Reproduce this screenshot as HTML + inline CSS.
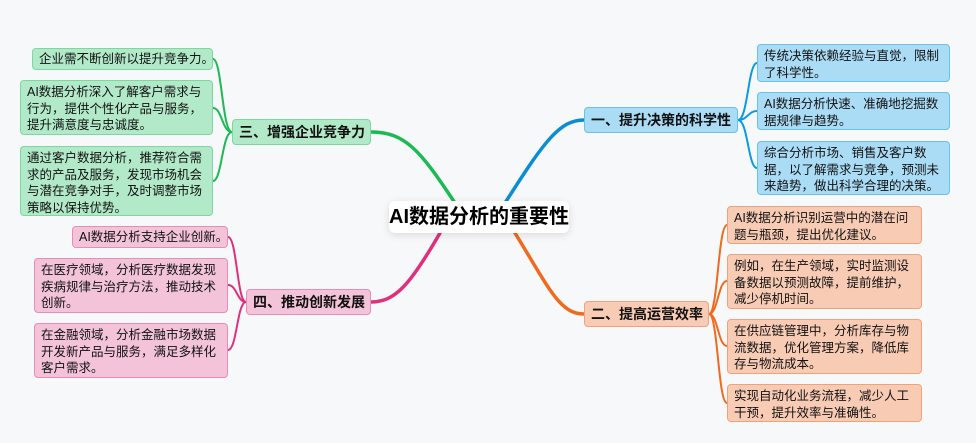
<!DOCTYPE html>
<html><head><meta charset="utf-8"><style>
body{margin:0;width:976px;height:443px;background:#f7f8fa;position:relative;overflow:hidden;font-family:"Liberation Sans","Noto Sans CJK SC",sans-serif;}
.n{position:absolute;box-sizing:border-box;border:1px solid;border-radius:4px;font-size:12.5px;line-height:16.5px;padding:3px 6px;color:#111;white-space:nowrap;}
.b{font-weight:bold;font-size:14px;line-height:24px;padding:0 6px;}
.g{background:#b2e9c8;border-color:#7dd8a0}
.bl{background:#abdcf5;border-color:#6cc0ec}
.o{background:#f8cbb5;border-color:#f1a27a}
.p{background:#f3c3da;border-color:#e98db6}
svg{position:absolute;left:0;top:0}
</style></head><body>
<svg width="976" height="443" fill="none" stroke-linecap="round">
<g stroke="#1db954" stroke-width="3.5"><path d="M455 203 C420 150,405 132,371 132"/></g>
<g stroke="#1db954" stroke-width="2"><path d="M232 132 C222 132,222 59,213 59"/><path d="M232 132 C222 132,222 108,213 108"/><path d="M232 132 C222 132,222 181,213 181"/></g>
<g stroke="#0a8dd3" stroke-width="3.5"><path d="M505 203 C545 140,560 120,584 120"/></g>
<g stroke="#0a9be3" stroke-width="2"><path d="M738 120 C748 120,748 63,757 63"/><path d="M738 120 C748 120,748 111,757 111"/><path d="M738 120 C748 120,748 168,757 168"/></g>
<g stroke="#f06a1e" stroke-width="3.5"><path d="M515 233 C550 290,560 314,584 314"/></g>
<g stroke="#f06a1e" stroke-width="2"><path d="M709 314 C718 314,718 225,727 225"/><path d="M709 314 C718 314,718 281,727 281"/><path d="M709 314 C718 314,718 346,727 346"/><path d="M709 314 C718 314,718 403,727 403"/></g>
<g stroke="#e0307d" stroke-width="3.5"><path d="M440 233 C410 285,395 302,371 302"/></g>
<g stroke="#e0307d" stroke-width="2"><path d="M246 302 C237 302,237 237,228 237"/><path d="M246 302 C237 302,237 285,228 285"/><path d="M246 302 C237 302,237 350,228 350"/></g>
</svg>
<div style="position:absolute;left:389px;top:201px;width:180px;height:32px;background:#fff;border-radius:6px;box-shadow:0 2px 8px rgba(0,0,0,.12);font-weight:bold;font-size:20px;line-height:32px;text-align:center;color:#000">AI数据分析的重要性</div>

<div class="n b g" style="left:232px;top:119px;width:139px;height:26px">三、增强企业竞争力</div>
<div class="n g" style="left:32px;top:48px;width:181px;height:22px;padding-top:2px">企业需不断创新以提升竞争力。</div>
<div class="n g" style="left:20px;top:80px;width:193px;height:55px">AI数据分析深入了解客户需求与<br>行为，提供个性化产品与服务，<br>提升满意度与忠诚度。</div>
<div class="n g" style="left:20px;top:146px;width:193px;height:70px">通过客户数据分析，推荐符合需<br>求的产品及服务，发现市场机会<br>与潜在竞争对手，及时调整市场<br>策略以保持优势。</div>

<div class="n b bl" style="left:584px;top:107px;width:154px;height:26px">一、提升决策的科学性</div>
<div class="n bl" style="left:757px;top:44px;width:193px;height:38px">传统决策依赖经验与直觉，限制<br>了科学性。</div>
<div class="n bl" style="left:757px;top:92px;width:193px;height:38px">AI数据分析快速、准确地挖掘数<br>据规律与趋势。</div>
<div class="n bl" style="left:757px;top:141px;width:193px;height:54px">综合分析市场、销售及客户数<br>据，以了解需求与竞争，预测未<br>来趋势，做出科学合理的决策。</div>

<div class="n b o" style="left:584px;top:301px;width:125px;height:26px">二、提高运营效率</div>
<div class="n o" style="left:727px;top:206px;width:195px;height:38px">AI数据分析识别运营中的潜在问<br>题与瓶颈，提出优化建议。</div>
<div class="n o" style="left:727px;top:254px;width:195px;height:55px">例如，在生产领域，实时监测设<br>备数据以预测故障，提前维护，<br>减少停机时间。</div>
<div class="n o" style="left:727px;top:319px;width:195px;height:55px">在供应链管理中，分析库存与物<br>流数据，优化管理方案，降低库<br>存与物流成本。</div>
<div class="n o" style="left:727px;top:384px;width:195px;height:38px">实现自动化业务流程，减少人工<br>干预，提升效率与准确性。</div>

<div class="n b p" style="left:246px;top:289px;width:125px;height:26px">四、推动创新发展</div>
<div class="n p" style="left:72px;top:226px;width:156px;height:22px;padding-top:2px">AI数据分析支持企业创新。</div>
<div class="n p" style="left:34px;top:258px;width:194px;height:55px">在医疗领域，分析医疗数据发现<br>疾病规律与治疗方法，推动技术<br>创新。</div>
<div class="n p" style="left:34px;top:323px;width:194px;height:55px">在金融领域，分析金融市场数据<br>开发新产品与服务，满足多样化<br>客户需求。</div>
</body></html>
